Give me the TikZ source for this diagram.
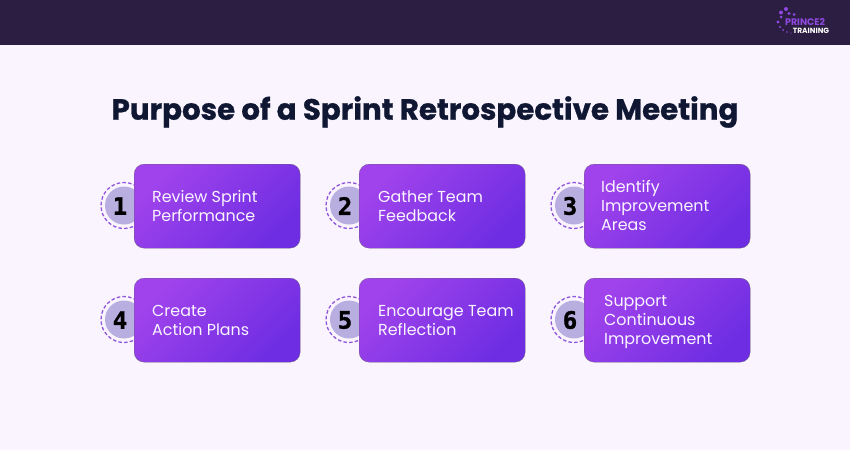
\documentclass[tikz,border=0pt]{standalone}
\usepackage{fontspec}
\setmainfont{Poppins}
\newfontfamily\numfont[FakeBold=1.2]{DejaVu Sans Mono}
\newfontfamily\titlefont[FakeBold=0.9]{Poppins}
\definecolor{pagebg}{HTML}{FAF4FF}
\definecolor{barbg}{HTML}{2C1E42}
\definecolor{titleink}{HTML}{0F1733}
\definecolor{boxleft}{HTML}{A043EC}
\definecolor{boxright}{HTML}{6E2DE2}
\definecolor{ringink}{HTML}{8F55DD}
\definecolor{discfill}{HTML}{B9AEE0}
\definecolor{logoink}{HTML}{8E48E0}
\tikzset{
    % Step card with its diagonal purple shade
    card box/.style={
        rounded corners=10pt, minimum width=166pt, minimum height=84pt,
        inner sep=0, anchor=north west, draw=barbg!70, line width=0.3pt,
        top color=boxleft, bottom color=boxright, shading angle=45},
    % Text sitting in a card
    card text/.style={
        anchor=west, align=left, text=pagebg, inner sep=0,
        font=\fontsize{15.9}{19}\selectfont},
    % Dashed outer ring and flat inner disc
    ring icon/.style={
        circle, draw=ringink, dash pattern=on 3.5pt off 2.2pt, line width=1.3pt,
        minimum size=46pt, inner sep=0},
    disc icon/.style={circle, fill=discfill, minimum size=38pt, inner sep=0},
    number label/.style={font=\numfont\bfseries\fontsize{24}{24}\selectfont, text=black, inner sep=0},
    logo dot/.style={fill=logoink, draw=none}}

\begin{document}
\begin{tikzpicture}[x=1pt,y=-1pt]

% Page and top bar

\path [fill=pagebg] (0,0) rectangle (850,450);
\path [fill=barbg] (0,0) rectangle (850,45);
\useasboundingbox (0,0) rectangle (850,450);

\node [font=\titlefont\bfseries\fontsize{29.3}{36}\selectfont, text=titleink, inner sep=0] (title) at (425,112)
    {Purpose of a Sprint Retrospective Meeting};

% Logo

\foreach \dx/\dy/\dr in {786/9/2, 781/12.5/2, 789/13.5/1.6, 794/14.5/1.5, 778/22/1.6,
    781/17/1.5, 780/27/1.2, 783/30/1, 787/32/0.8, 791/33/0.6}
    \path [logo dot] (\dx,\dy) circle (\dr);
\node [font=\bfseries\fontsize{9.5}{9}\selectfont, text=logoink, inner sep=0] (logo top) at (805,22) {PRINCE2};
\node [font=\bfseries\fontsize{7.5}{8}\selectfont, text=white, inner sep=0] (logo bottom) at (811,31) {TRAINING};

% Six numbered cards

\foreach \n/\bx/\by/\tx/\label in {
    1/134/164/152/{Review Sprint\\Performance},
    2/359/164/378/{Gather Team\\Feedback},
    3/584/164/601/{Identify\\Improvement\\Areas},
    4/134/278/152/{Create\\Action Plans},
    5/359/278/378/{Encourage Team\\Reflection},
    6/584/278/604/{Support\\Continuous\\Improvement}} {
    \node [ring icon] (ring\n) at (\bx-10,\by+41.5) {};
    \node [disc icon] (disc\n) at (ring\n) {};
    \node [card box] (card\n) at (\bx,\by) {};
    \node [number label] (num\n) at (\bx-14,\by+42) {\n};
    \node [card text] (text\n) at (\tx,\by+44) {\strut\label\strut};
}

\end{tikzpicture}
\end{document}
